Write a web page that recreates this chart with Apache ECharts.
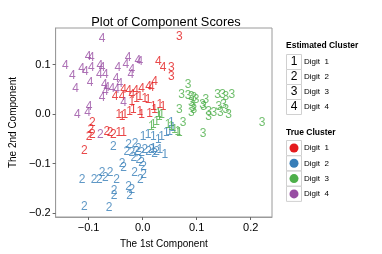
<!DOCTYPE html>
<html><head><meta charset="utf-8">
<script src="https://cdn.jsdelivr.net/npm/echarts@6/dist/echarts.min.js"></script>
<style>html,body{margin:0;padding:0;background:#fff}#c{width:382px;height:254px}</style>
</head><body><div id="c"></div>
<script>
// [x, y, estimated cluster]
const trueDigit1 = [
  [0.068,0.157,3],[0.053,0.093,3],[0.053,0.076,3],
  [0.029,0.106,4],[0.038,0.094,4],[0.022,0.065,4],[0.011,0.055,4],[0.016,0.053,4],[-0.002,0.051,4],
  [-0.013,0.047,4],[-0.026,0.047,4],[-0.035,0.049,4],[-0.051,0.035,4],[-0.038,0.035,4],[-0.020,0.039,4],
  [-0.020,0.025,1],[-0.011,0.032,1],[-0.005,0.036,1],[0.004,0.032,1],[0.010,0.029,1],[-0.044,-0.001,1],
  [-0.038,-0.005,1],[-0.033,-0.001,1],[-0.024,0.005,1],[-0.017,0.009,1],[-0.005,0.005,1],[-0.002,-0.001,1],
  [0.013,0.002,1],[0.022,0.009,1],[0.020,0.015,1],[0.032,0.019,1],[0.038,0.015,1],[-0.044,-0.038,1],[-0.035,-0.038,1],
  [-0.093,-0.018,2],[-0.096,-0.032,2],[-0.093,-0.042,2],[-0.099,-0.045,2],[-0.066,-0.035,2],[-0.060,-0.038,2],
  [-0.054,-0.042,2],[-0.108,-0.074,2]
];
const trueDigit2 = [
  [0.001,-0.045,1],[0.010,-0.042,1],[0.020,-0.045,1],[0.029,-0.052,1],[0.035,-0.045,1],[0.044,-0.038,1],
  [0.050,-0.035,1],[0.056,-0.028,1],[0.053,-0.018,1],[0.020,-0.069,1],[0.032,-0.072,1],[0.041,-0.082,1],
  [-0.054,-0.065,2],[-0.026,-0.062,2],[-0.014,-0.059,2],[-0.008,-0.069,2],[0.004,-0.072,2],[0.016,-0.072,2],
  [0.022,-0.079,2],[-0.029,-0.076,2],[-0.020,-0.078,2],[-0.011,-0.076,2],[-0.002,-0.078,2],[0.011,-0.076,2],
  [0.026,-0.076,2],[-0.038,-0.099,2],[-0.035,-0.108,2],[-0.016,-0.088,2],[-0.007,-0.092,2],[-0.002,-0.098,2],
  [0.002,-0.106,2],[-0.015,-0.119,2],[0.002,-0.123,2],[-0.004,-0.133,2],[-0.112,-0.133,2],[-0.090,-0.133,2],
  [-0.080,-0.133,2],[-0.075,-0.119,2],[-0.060,-0.119,2],[-0.069,-0.129,2],[-0.048,-0.133,2],[-0.053,-0.155,2],
  [-0.053,-0.165,2],[-0.026,-0.147,2],[-0.020,-0.153,2],[-0.024,-0.165,2],[-0.108,-0.187,2],[-0.062,-0.189,2]
];
const trueDigit3 = [
  [0.029,0.002,1],[0.031,-0.005,1],[0.035,-0.001,1],[0.026,-0.015,1],[0.020,-0.022,1],[0.016,-0.025,1],
  [0.047,-0.022,1],[0.053,-0.025,1],[0.059,-0.032,1],[0.065,-0.035,1],[0.068,-0.038,1],
  [0.084,0.059,3],[0.072,0.039,3],[0.084,0.037,3],[0.090,0.035,3],[0.095,0.033,3],[0.099,0.029,3],
  [0.090,0.023,3],[0.093,0.013,3],[0.090,0.003,3],[0.095,0.009,3],[0.117,0.029,3],[0.111,0.019,3],
  [0.113,0.015,3],[0.122,0.005,3],[0.132,0.003,3],[0.068,0.009,3],[0.075,-0.018,3],[0.139,0.039,3],
  [0.148,0.039,3],[0.154,0.035,3],[0.165,0.039,3],[0.141,0.015,3],[0.150,0.019,3],[0.154,0.009,3],
  [0.159,-0.001,3],[0.144,0.003,3],[0.112,-0.040,3],[0.221,-0.018,3],[0.122,-0.005,3]
];
const trueDigit4 = [
  [-0.075,0.152,4],[-0.101,0.116,4],[-0.095,0.114,4],[-0.143,0.098,4],[-0.130,0.077,4],[-0.113,0.092,4],
  [-0.106,0.085,4],[-0.095,0.094,4],[-0.079,0.098,4],[-0.075,0.094,4],[-0.080,0.079,4],[-0.069,0.079,4],
  [-0.097,0.063,4],[-0.124,0.051,4],[-0.071,0.059,4],[-0.066,0.053,4],[-0.046,0.094,4],[-0.027,0.114,4],
  [-0.031,0.100,4],[-0.009,0.108,4],[-0.005,0.106,4],[-0.020,0.089,4],[-0.022,0.079,4],[-0.049,0.071,4],
  [-0.042,0.061,4],[-0.057,0.051,4],[-0.048,0.049,4],[-0.069,0.045,4],[-0.075,0.033,4],[-0.035,0.023,4],
  [-0.099,0.015,4],[-0.102,0.003,4],[-0.121,-0.001,4],
  [-0.078,-0.042,2]
];
const xTicks = [-0.1, 0.0, 0.1, 0.2];
const yTicks = [-0.2, -0.1, 0.0, 0.1];
const legendLabels = ['Digit  1','Digit  2','Digit  3','Digit  4'];
const colors = ['#E41A1C','#377EB8','#4DAF4A','#984EA3'];

const FONT = 'Liberation Sans, Arial, Helvetica, sans-serif';
const fmt = v => (v < 0 ? '\u2212' : '') + Math.abs(v).toFixed(1);
const groups = [trueDigit1, trueDigit2, trueDigit3, trueDigit4];
const series = groups.map((g, i) => ({
  type: 'scatter', data: g, symbolSize: 2, silent: true,
  itemStyle: { color: 'rgba(0,0,0,0)' },
  label: { show: true, position: 'inside', formatter: p => String(p.value[2]),
           color: colors[i], fontSize: 12, fontFamily: FONT }
}));

const graphics = [];
graphics.push({ type: 'text', left: 286, top: 41, style: { text: 'Estimated Cluster', font: 'bold 8.5px ' + FONT, fill: '#000' } });
legendLabels.forEach((t, i) => {
  const cy = 62 + i * 15;
  graphics.push({ type: 'rect', shape: { x: 286.5, y: cy - 7.5, width: 15, height: 15 }, style: { fill: '#fff', stroke: '#d0d0d0', lineWidth: 1 } });
  graphics.push({ type: 'text', x: 294, y: cy, style: { text: String(i + 1), font: '12px ' + FONT, fill: '#000', align: 'center', verticalAlign: 'middle' } });
  graphics.push({ type: 'text', x: 304, y: cy, style: { text: t, font: '8px ' + FONT, fill: '#000', verticalAlign: 'middle' } });
});
graphics.push({ type: 'text', left: 286, top: 128, style: { text: 'True Cluster', font: 'bold 8.5px ' + FONT, fill: '#000' } });
legendLabels.forEach((t, i) => {
  const cy = 148 + i * 15.3;
  graphics.push({ type: 'rect', shape: { x: 286.5, y: cy - 7.5, width: 15, height: 15 }, style: { fill: '#fff', stroke: '#d0d0d0', lineWidth: 1 } });
  graphics.push({ type: 'circle', shape: { cx: 294, cy: cy, r: 4.5 }, style: { fill: colors[i] } });
  graphics.push({ type: 'text', x: 304, y: cy, style: { text: t, font: '8px ' + FONT, fill: '#000', verticalAlign: 'middle' } });
});

const chart = echarts.init(document.getElementById('c'), null, { renderer: 'canvas' });
chart.setOption({
  animation: false,
  title: { text: 'Plot of Component Scores', left: 161, top: 11, textAlign: 'center',
           textStyle: { fontSize: 12.8, fontWeight: 'normal', color: '#000', fontFamily: FONT } },
  grid: { left: 53, top: 28, width: 219, height: 189, show: true, borderColor: '#9a9a9a', borderWidth: 1, backgroundColor: 'transparent' },
  xAxis: {
    type: 'value', min: -0.161, max: 0.2395,
    name: 'The 1st Component', nameLocation: 'middle', nameGap: 22,
    nameTextStyle: { fontSize: 10, color: '#000', fontFamily: FONT },
    axisLine: { show: true, onZero: false, lineStyle: { color: '#9a9a9a' } },
    axisTick: { show: true, length: 3, lineStyle: { color: '#666' }, customValues: xTicks },
    axisLabel: { customValues: xTicks, formatter: fmt, fontSize: 11, color: '#000', margin: 5, fontFamily: FONT },
    splitLine: { show: false }
  },
  yAxis: {
    type: 'value', min: -0.2075, max: 0.174,
    name: 'The 2nd Component', nameLocation: 'middle', nameGap: 36, nameRotate: 90,
    nameTextStyle: { fontSize: 10, color: '#000', fontFamily: FONT },
    axisLine: { show: true, onZero: false, lineStyle: { color: '#9a9a9a' } },
    axisTick: { show: true, length: 3, lineStyle: { color: '#666' }, customValues: yTicks },
    axisLabel: { customValues: yTicks, formatter: fmt, fontSize: 11, color: '#000', margin: 5, fontFamily: FONT },
    splitLine: { show: false }
  },
  graphic: graphics,
  series: series
});
</script></body></html>
